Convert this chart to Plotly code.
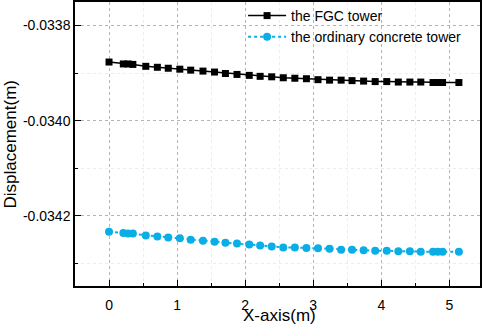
import plotly.graph_objects as go

x_pos = [0, 0.21, 0.28, 0.35, 0.54, 0.71, 0.87, 1.04, 1.2, 1.38, 1.55, 1.71, 1.88, 2.06,
         2.22, 2.39, 2.56, 2.73, 2.9, 3.07, 3.24, 3.41, 3.57, 3.74, 3.91, 4.08, 4.25,
         4.42, 4.58, 4.76, 4.83, 4.9, 5.14]

fgc_tower = [-0.033877, -0.033881, -0.033881, -0.033882, -0.033886, -0.033888, -0.033890,
             -0.033892, -0.033894, -0.033896, -0.033898, -0.033901, -0.033903, -0.033905,
             -0.033907, -0.033908, -0.033910, -0.033911, -0.033912, -0.033914, -0.033915,
             -0.033915, -0.033916, -0.033917, -0.033918, -0.033918, -0.033919, -0.033919,
             -0.033919, -0.033920, -0.033920, -0.033920, -0.033920]

ordinary_tower = [-0.034233, -0.034236, -0.034237, -0.034237, -0.034241, -0.034243, -0.034245,
                  -0.034247, -0.034250, -0.034252, -0.034254, -0.034256, -0.034258, -0.034260,
                  -0.034262, -0.034264, -0.034266, -0.034266, -0.034267, -0.034268, -0.034269,
                  -0.034271, -0.034271, -0.034272, -0.034273, -0.034273, -0.034274, -0.034274,
                  -0.034275, -0.034275, -0.034275, -0.034275, -0.034275]

series_names = ["the FGC tower", "the ordinary concrete tower"]
x_ticks = [0, 1, 2, 3, 4, 5]
y_ticks = [-0.0338, -0.0340, -0.0342]
y_tick_labels = ["-0.0338", "-0.0340", "-0.0342"]
x_title = "X-axis(m)"
y_title = "Displacement(m)"

FONT = "Liberation Sans, Arial, sans-serif"
BLUE = "#0aaee6"

fig = go.Figure()
fig.add_trace(go.Scatter(
    x=x_pos, y=fgc_tower, name=series_names[0], mode="lines+markers",
    line=dict(color="black", width=1.5),
    marker=dict(symbol="square", size=7, color="black"),
))
fig.add_trace(go.Scatter(
    x=x_pos, y=ordinary_tower, name=series_names[1], mode="lines+markers",
    line=dict(color=BLUE, width=2, dash="dot"),
    marker=dict(symbol="circle", size=8, color=BLUE),
))

axis_common = dict(
    showline=True, linecolor="black", linewidth=1.5, mirror=True,
    ticks="inside", ticklen=6, tickwidth=1.2, tickcolor="black",
    showgrid=True, gridcolor="#b4b4b4", griddash="3px,3px", gridwidth=1,
    zeroline=False, automargin=False,
    tickfont=dict(family=FONT, size=14, color="black"),
)

fig.update_xaxes(
    **axis_common,
    range=[-0.5, 5.45], tickmode="array", tickvals=x_ticks, ticklabelstandoff=5,
    minor=dict(dtick=0.5, tick0=0.5, ticks="inside", ticklen=3, tickcolor="black",
               showgrid=True, gridcolor="#ececec", gridwidth=1),
)
fig.update_yaxes(
    **axis_common,
    range=[-0.034347, -0.033751], tickmode="array", tickvals=y_ticks, ticktext=y_tick_labels,
    minor=dict(dtick=0.0001, tick0=-0.0339, ticks="inside", ticklen=3, tickcolor="black",
               showgrid=True, gridcolor="#ececec", gridwidth=1),
)

fig.add_annotation(text=x_title, xref="paper", yref="paper", x=0.505, y=-0.105,
                   xanchor="center", yanchor="middle", showarrow=False,
                   font=dict(family=FONT, size=17, color="black"))
fig.add_annotation(text=y_title, xref="paper", yref="paper", x=-0.160, y=0.499,
                   xanchor="center", yanchor="middle", showarrow=False, textangle=-90,
                   font=dict(family=FONT, size=17, color="black"))

fig.update_layout(
    width=484, height=325,
    margin=dict(l=75, r=4, t=1, b=39),
    paper_bgcolor="white", plot_bgcolor="white",
    showlegend=True,
    legend=dict(x=0.415, y=1.005, xanchor="left", yanchor="top",
                bgcolor="rgba(0,0,0,0)", font=dict(family=FONT, size=14, color="black"),
                itemwidth=38, tracegroupgap=0),
)

fig.write_html("out.html", config={"displayModeBar": False},
               post_script="document.body.style.margin='0';")
